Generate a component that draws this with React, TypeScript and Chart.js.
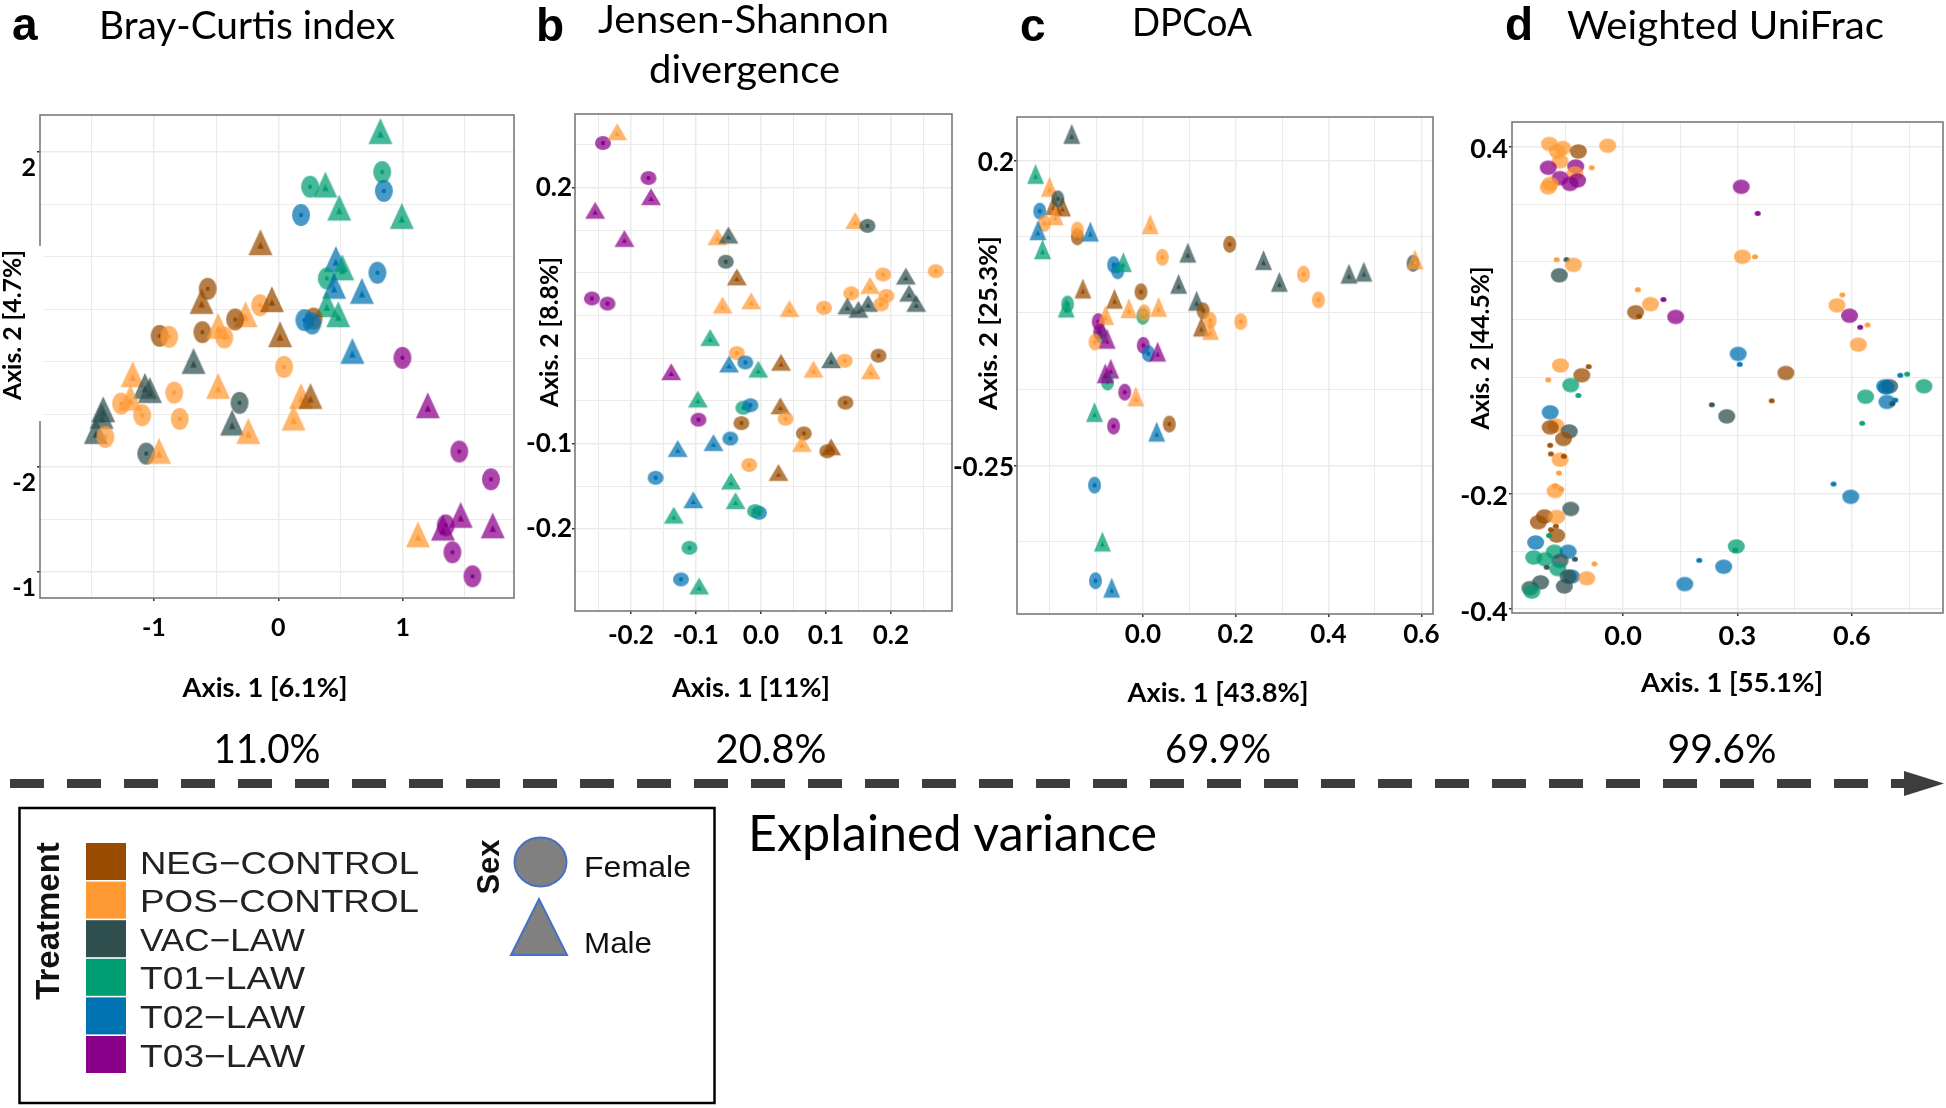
import React, { useEffect, useRef } from 'react';
import { Chart, registerables } from 'chart.js';
Chart.register(...registerables);

// ---------- legend data ----------
const GROUPS = ['NEG', 'POS', 'VAC', 'T01', 'T02', 'T03'];
const GROUP_LABELS = ['NEG\u2212CONTROL', 'POS\u2212CONTROL', 'VAC\u2212LAW', 'T01\u2212LAW', 'T02\u2212LAW', 'T03\u2212LAW'];
const GROUP_COLORS = ['#994C00', '#FF9933', '#2F4F4F', '#009E73', '#0072B2', '#8B008B'];

const PANEL_LETTERS = ['a', 'b', 'c', 'd'];
const PANEL_TITLES = ['Bray-Curtis index', 'Jensen-Shannon', 'DPCoA', 'Weighted UniFrac'];
const X_TITLES = ['Axis. 1 [6.1%]', 'Axis. 1 [11%]', 'Axis. 1 [43.8%]', 'Axis. 1 [55.1%]'];
const Y_TITLES = ['Axis. 2 [4.7%]', 'Axis. 2 [8.8%]', 'Axis. 2 [25.3%]', 'Axis. 2 [44.5%]'];
const EXPLAINED = ['11.0%', '20.8%', '69.9%', '99.6%'];

// ---------- panel a ----------
type P = [string, string, number, number];
const X_TICKS_A = [-1.5, -1, -0.5, 0, 0.5, 1, 1.5];
const X_LABELS_A: [number, string][] = [[-1, '-1'], [0, '0'], [1, '1']];
const Y_TICKS_A = [-2, -1.5, -1, -0.5, 0, 0.5, 1, 1.5, 2];
const Y_LABELS_A: [number, string][] = [[2, '2'], [-1, '-2'], [-2, '-1']];
const PTS_A: P[] = [
  ['T01', 'M', 0.82, 2.16], ['T01', 'F', 0.834, 1.81], ['T02', 'F', 0.848, 1.63], ['T01', 'F', 0.255, 1.67],
  ['T01', 'M', 0.378, 1.65], ['T02', 'F', 0.182, 1.40], ['T01', 'M', 0.489, 1.43], ['T01', 'M', 0.992, 1.35],
  ['NEG', 'M', -0.144, 1.10], ['T02', 'M', 0.462, 0.94], ['T01', 'M', 0.514, 0.86], ['T01', 'F', 0.389, 0.795],
  ['T02', 'F', 0.796, 0.85], ['T02', 'M', 0.448, 0.684], ['T02', 'M', 0.671, 0.636], ['NEG', 'F', -0.568, 0.697],
  ['NEG', 'M', -0.617, 0.54], ['POS', 'F', -0.147, 0.54], ['NEG', 'M', -0.052, 0.557], ['T01', 'M', 0.389, 0.509],
  ['NEG', 'F', 0.283, 0.413], ['T02', 'F', 0.209, 0.398], ['T02', 'F', 0.272, 0.366], ['T01', 'M', 0.481, 0.413],
  ['POS', 'M', -0.264, 0.413], ['NEG', 'F', -0.348, 0.404], ['NEG', 'F', -0.954, 0.248], ['POS', 'F', -0.878, 0.239],
  ['NEG', 'F', -0.611, 0.283], ['POS', 'M', -0.484, 0.302], ['POS', 'F', -0.435, 0.232], ['NEG', 'M', 0.014, 0.223],
  ['T02', 'M', 0.595, 0.064], ['T03', 'F', 0.997, 0.038], ['VAC', 'M', -0.682, -0.032], ['POS', 'F', 0.046, -0.048],
  ['POS', 'M', -1.171, -0.159], ['VAC', 'M', -1.073, -0.27], ['VAC', 'M', -1.033, -0.309], ['POS', 'F', -0.837, -0.293],
  ['POS', 'M', -0.484, -0.27], ['VAC', 'F', -0.312, -0.391], ['POS', 'M', 0.182, -0.366], ['NEG', 'M', 0.258, -0.366],
  ['POS', 'F', -1.264, -0.398], ['POS', 'M', -1.19, -0.382], ['POS', 'F', -1.095, -0.509], ['POS', 'F', -0.793, -0.544],
  ['VAC', 'M', -1.408, -0.493], ['VAC', 'M', -1.421, -0.556], ['VAC', 'M', -0.372, -0.62], ['POS', 'M', 0.122, -0.572],
  ['POS', 'M', -0.242, -0.70], ['VAC', 'M', -1.467, -0.70], ['POS', 'F', -1.391, -0.716], ['VAC', 'F', -1.062, -0.875],
  ['POS', 'M', -0.959, -0.89], ['T03', 'M', 1.201, -0.455], ['T03', 'F', 1.454, -0.855], ['T03', 'F', 1.709, -1.12],
  ['T03', 'M', 1.465, -1.50], ['T03', 'M', 1.723, -1.60], ['T03', 'F', 1.345, -1.559], ['T03', 'M', 1.323, -1.622],
  ['POS', 'M', 1.122, -1.686], ['T03', 'F', 1.399, -1.816], ['T03', 'F', 1.560, -2.045],
];

// ---------- panel b ----------
const X_TICKS_B = [-0.25, -0.2, -0.15, -0.1, -0.05, 0, 0.05, 0.1, 0.15, 0.2, 0.25];
const X_LABELS_B: [number, string][] = [[-0.2, '-0.2'], [-0.1, '-0.1'], [0, '0.0'], [0.1, '0.1'], [0.2, '0.2']];
const Y_TICKS_B = [-0.25, -0.2, -0.15, -0.1, -0.05, 0, 0.05, 0.1, 0.15, 0.2, 0.25];
const Y_LABELS_B: [number, string][] = [[0.2, '0.2'], [-0.1, '-0.1'], [-0.2, '-0.2']];
const PTS_B: P[] = [
  ['T03', 'F', -0.243, 0.252], ['POS', 'M', -0.221, 0.262], ['T03', 'F', -0.173, 0.211], ['T03', 'M', -0.169, 0.186],
  ['T03', 'M', -0.255, 0.170], ['T03', 'M', -0.210, 0.137], ['T03', 'F', -0.260, 0.070], ['T03', 'F', -0.236, 0.064],
  ['POS', 'M', -0.067, 0.139], ['VAC', 'M', -0.050, 0.141], ['VAC', 'F', -0.054, 0.113], ['NEG', 'M', -0.037, 0.092],
  ['POS', 'M', -0.059, 0.059], ['POS', 'M', -0.015, 0.064], ['POS', 'M', 0.044, 0.055], ['POS', 'M', 0.145, 0.158],
  ['VAC', 'F', 0.164, 0.155], ['POS', 'F', 0.097, 0.059], ['POS', 'F', 0.139, 0.076], ['POS', 'M', 0.168, 0.082],
  ['VAC', 'M', 0.133, 0.058], ['VAC', 'M', 0.150, 0.054], ['VAC', 'M', 0.165, 0.061], ['POS', 'F', 0.188, 0.098],
  ['POS', 'F', 0.193, 0.073], ['POS', 'F', 0.185, 0.063], ['VAC', 'M', 0.223, 0.093], ['VAC', 'M', 0.228, 0.073],
  ['VAC', 'M', 0.239, 0.061], ['POS', 'F', 0.269, 0.102], ['T01', 'M', -0.078, 0.021], ['POS', 'F', -0.037, 0.006],
  ['T02', 'F', -0.024, -0.005], ['T02', 'M', -0.049, -0.010], ['T01', 'M', -0.004, -0.016], ['NEG', 'M', 0.031, -0.008],
  ['POS', 'M', 0.081, -0.016], ['VAC', 'M', 0.108, -0.005], ['POS', 'F', 0.129, -0.003], ['NEG', 'F', 0.181, 0.003],
  ['POS', 'M', 0.169, -0.018], ['T03', 'M', -0.138, -0.019], ['T01', 'M', -0.097, -0.051], ['T01', 'F', -0.027, -0.058],
  ['T02', 'F', -0.016, -0.055], ['NEG', 'M', 0.030, -0.059], ['NEG', 'F', 0.130, -0.052], ['T03', 'F', -0.096, -0.072],
  ['NEG', 'F', -0.030, -0.076], ['POS', 'F', 0.038, -0.071], ['NEG', 'F', 0.066, -0.088], ['T02', 'F', -0.047, -0.094],
  ['T02', 'M', -0.073, -0.102], ['T02', 'M', -0.128, -0.109], ['POS', 'M', 0.063, -0.103], ['NEG', 'F', 0.102, -0.109],
  ['NEG', 'M', 0.108, -0.107], ['POS', 'F', -0.018, -0.125], ['T02', 'F', -0.162, -0.140], ['NEG', 'M', 0.027, -0.137],
  ['T01', 'M', -0.046, -0.147], ['T02', 'M', -0.104, -0.169], ['T01', 'M', -0.039, -0.170], ['T02', 'F', -0.003, -0.181],
  ['T01', 'F', -0.009, -0.179], ['T01', 'M', -0.134, -0.187], ['T01', 'F', -0.110, -0.222], ['T02', 'F', -0.123, -0.259],
  ['T01', 'M', -0.095, -0.270],
];

// ---------- panel c ----------
const X_TICKS_C = [-0.2, -0.1, 0, 0.1, 0.2, 0.3, 0.4, 0.5, 0.6];
const X_LABELS_C: [number, string][] = [[0, '0.0'], [0.2, '0.2'], [0.4, '0.4'], [0.6, '0.6']];
const Y_TICKS_C = [-0.3625, -0.25, -0.1375, -0.025, 0.0875, 0.2];
const Y_LABELS_C: [number, string][] = [[0.2, '0.2'], [-0.25, '-0.25']];
const PTS_C: P[] = [
  ['VAC', 'M', -0.153, 0.234], ['T01', 'M', -0.231, 0.175], ['POS', 'M', -0.201, 0.156], ['NEG', 'M', -0.192, 0.129],
  ['NEG', 'M', -0.173, 0.127], ['VAC', 'F', -0.183, 0.143], ['T02', 'F', -0.222, 0.125], ['POS', 'M', -0.189, 0.114],
  ['POS', 'F', -0.212, 0.107], ['T02', 'M', -0.226, 0.092], ['NEG', 'F', -0.141, 0.087], ['POS', 'F', -0.141, 0.097],
  ['T02', 'M', -0.113, 0.090], ['T01', 'M', -0.216, 0.064], ['POS', 'M', 0.016, 0.101], ['POS', 'F', 0.042, 0.057],
  ['VAC', 'M', 0.097, 0.059], ['NEG', 'F', 0.187, 0.076], ['VAC', 'M', 0.260, 0.048], ['VAC', 'M', 0.294, 0.016],
  ['POS', 'F', 0.346, 0.032], ['POS', 'F', 0.378, -0.006], ['VAC', 'M', 0.444, 0.028], ['VAC', 'M', 0.476, 0.031],
  ['VAC', 'F', 0.582, 0.048], ['POS', 'M', 0.586, 0.049], ['T02', 'F', -0.063, 0.046], ['T02', 'F', -0.054, 0.037],
  ['T01', 'M', -0.042, 0.045], ['VAC', 'M', 0.077, 0.013], ['VAC', 'M', 0.116, -0.012], ['NEG', 'F', 0.130, -0.022],
  ['NEG', 'F', -0.004, 0.006], ['NEG', 'M', -0.129, 0.006], ['NEG', 'M', -0.061, -0.009], ['T01', 'F', 0.000, -0.030],
  ['POS', 'M', -0.030, -0.023], ['POS', 'F', 0.003, -0.025], ['POS', 'M', 0.034, -0.021], ['POS', 'F', 0.145, -0.036],
  ['POS', 'F', 0.211, -0.038], ['NEG', 'M', 0.126, -0.050], ['POS', 'M', 0.146, -0.055], ['T01', 'F', -0.162, -0.012],
  ['T01', 'M', -0.165, -0.022], ['T01', 'F', -0.090, -0.058], ['T03', 'F', -0.096, -0.038], ['POS', 'M', -0.080, -0.033],
  ['T03', 'F', -0.093, -0.053], ['POS', 'F', -0.103, -0.068], ['T03', 'M', -0.077, -0.068], ['T03', 'F', 0.001, -0.073],
  ['T02', 'F', 0.012, -0.085], ['T03', 'M', 0.032, -0.087], ['T03', 'M', -0.069, -0.112], ['T01', 'F', -0.076, -0.127],
  ['T03', 'M', -0.081, -0.119], ['T03', 'F', -0.039, -0.142], ['POS', 'M', -0.015, -0.153], ['T01', 'M', -0.104, -0.176],
  ['T03', 'F', -0.063, -0.192], ['NEG', 'F', 0.057, -0.189], ['T02', 'M', 0.030, -0.205], ['T02', 'F', -0.104, -0.279],
  ['T01', 'M', -0.087, -0.367], ['T02', 'F', -0.102, -0.420], ['T02', 'M', -0.067, -0.435],
];

// ---------- panel d (L = large point, S = small point) ----------
const X_TICKS_D = [-0.15, 0, 0.15, 0.3, 0.45, 0.6, 0.75];
const X_LABELS_D: [number, string][] = [[0, '0.0'], [0.3, '0.3'], [0.6, '0.6']];
const Y_TICKS_D = [-0.4, -0.3, -0.2, -0.1, 0, 0.1, 0.2, 0.3, 0.4];
const Y_LABELS_D: [number, string][] = [[0.4, '0.4'], [-0.2, '-0.2'], [-0.4, '-0.4']];
const PTS_D: P[] = [
  ['POS', 'L', -0.193, 0.404], ['POS', 'L', -0.158, 0.397], ['POS', 'L', -0.172, 0.391], ['NEG', 'L', -0.117, 0.391],
  ['POS', 'L', -0.040, 0.401], ['POS', 'L', -0.165, 0.374], ['T03', 'L', -0.196, 0.363], ['T03', 'L', -0.124, 0.365],
  ['POS', 'L', -0.126, 0.353], ['T03', 'L', -0.165, 0.345], ['T03', 'L', -0.119, 0.341], ['T03', 'L', -0.139, 0.335],
  ['POS', 'L', -0.191, 0.335], ['POS', 'L', -0.196, 0.329], ['POS', 'S', -0.082, 0.363], ['T03', 'L', 0.310, 0.330],
  ['T03', 'S', 0.353, 0.284], ['POS', 'L', 0.313, 0.209], ['POS', 'S', 0.346, 0.209], ['POS', 'S', -0.174, 0.204],
  ['VAC', 'S', -0.148, 0.204], ['POS', 'L', -0.130, 0.195], ['VAC', 'L', -0.167, 0.177], ['POS', 'S', 0.039, 0.152],
  ['POS', 'L', 0.072, 0.127], ['NEG', 'L', 0.033, 0.113], ['NEG', 'S', 0.042, 0.106], ['T03', 'S', 0.106, 0.135],
  ['T03', 'L', 0.138, 0.105], ['POS', 'S', 0.575, 0.143], ['POS', 'L', 0.561, 0.125], ['T03', 'L', 0.594, 0.107],
  ['T03', 'S', 0.622, 0.087], ['POS', 'S', 0.641, 0.091], ['POS', 'L', 0.617, 0.057], ['T02', 'L', 0.302, 0.041],
  ['T02', 'S', 0.306, 0.023], ['NEG', 'L', 0.427, 0.008], ['POS', 'L', -0.164, 0.021], ['NEG', 'S', -0.090, 0.019],
  ['NEG', 'L', -0.108, 0.004], ['POS', 'S', -0.196, -0.004], ['T01', 'L', -0.137, -0.013], ['T01', 'S', -0.117, -0.031],
  ['T02', 'L', -0.191, -0.060], ['POS', 'L', -0.176, -0.083], ['NEG', 'L', -0.191, -0.086], ['VAC', 'L', -0.141, -0.093],
  ['NEG', 'L', -0.156, -0.106], ['NEG', 'S', -0.191, -0.117], ['NEG', 'S', -0.189, -0.132], ['POS', 'L', -0.165, -0.142],
  ['NEG', 'S', -0.155, -0.136], ['POS', 'S', -0.168, -0.165], ['POS', 'L', -0.178, -0.196], ['POS', 'S', -0.178, -0.187],
  ['POS', 'S', -0.162, -0.193], ['VAC', 'L', -0.137, -0.227], ['NEG', 'L', -0.206, -0.240], ['NEG', 'L', -0.222, -0.250],
  ['POS', 'L', -0.174, -0.241], ['NEG', 'S', -0.176, -0.257], ['NEG', 'S', -0.189, -0.263], ['NEG', 'L', -0.174, -0.273],
  ['T01', 'S', -0.194, -0.273], ['T02', 'L', -0.229, -0.285], ['T01', 'L', -0.180, -0.301], ['T02', 'L', -0.144, -0.301],
  ['T01', 'L', -0.234, -0.311], ['VAC', 'L', -0.165, -0.317], ['T01', 'L', -0.204, -0.314], ['VAC', 'S', -0.126, -0.314],
  ['T01', 'L', -0.171, -0.331], ['VAC', 'S', -0.200, -0.328], ['POS', 'S', -0.075, -0.322], ['T02', 'L', -0.135, -0.344],
  ['VAC', 'L', -0.144, -0.344], ['POS', 'L', -0.095, -0.347], ['VAC', 'L', -0.216, -0.354], ['VAC', 'L', -0.244, -0.364],
  ['T01', 'L', -0.239, -0.370], ['VAC', 'L', -0.154, -0.361], ['T02', 'L', 0.162, -0.357], ['T02', 'S', 0.200, -0.316],
  ['T02', 'L', 0.264, -0.327], ['T01', 'L', 0.297, -0.292], ['T01', 'S', 0.294, -0.298], ['VAC', 'S', 0.233, -0.047],
  ['VAC', 'L', 0.272, -0.067], ['NEG', 'S', 0.390, -0.040], ['T02', 'S', 0.727, 0.004], ['T01', 'S', 0.745, 0.006],
  ['T02', 'L', 0.686, -0.015], ['VAC', 'L', 0.699, -0.015], ['T02', 'L', 0.690, -0.017], ['T01', 'L', 0.789, -0.015],
  ['T01', 'L', 0.636, -0.033], ['T02', 'S', 0.714, -0.039], ['T02', 'L', 0.692, -0.042], ['VAC', 'S', 0.706, -0.045],
  ['T01', 'S', 0.627, -0.079], ['T02', 'S', 0.552, -0.184], ['T02', 'L', 0.597, -0.206],
];

// ---------- layout / style ----------
const YW = 80;
const XH = 70;
const PAD_T = 30;
const PAD_R = 30;
const TICK_FONT = 'Lato';

interface PanelCfg {
  pts: P[];
  box: [number, number, number, number];
  x: [number, number];
  y: [number, number];
  xTicks: number[];
  xLab: [number, string][];
  yTicks: number[];
  yLab: [number, string][];
  font: number;
  xPad: number;
  yPad: number;
  yOff: number;
  circle: [number, number];
  tri: [number, number];
  small?: [number, number];
  dots: boolean;
  alpha: number;
}

const PANELS: PanelCfg[] = [
  { pts: PTS_A, box: [40, 115, 514, 598], x: [-1.916, 1.894], y: [-2.252, 2.354], xTicks: X_TICKS_A, xLab: X_LABELS_A,
    yTicks: Y_TICKS_A, yLab: Y_LABELS_A, font: 25, xPad: 12, yPad: 1, yOff: 16, circle: [18, 22], tri: [24, 26], dots: true, alpha: 0.72 },
  { pts: PTS_B, box: [575, 114, 952, 611], x: [-0.286, 0.294], y: [-0.296, 0.286], xTicks: X_TICKS_B, xLab: X_LABELS_B,
    yTicks: Y_TICKS_B, yLab: Y_LABELS_B, font: 26, xPad: 6, yPad: 0, yOff: 0, circle: [16, 14], tri: [20, 17], dots: true, alpha: 0.72 },
  { pts: PTS_C, box: [1017, 117, 1433, 614], x: [-0.271, 0.625], y: [-0.469, 0.2638], xTicks: X_TICKS_C, xLab: X_LABELS_C,
    yTicks: Y_TICKS_C, yLab: Y_LABELS_C, font: 26, xPad: 2, yPad: 0, yOff: 2, circle: [13, 17], tri: [17, 20], dots: true, alpha: 0.72 },
  { pts: PTS_D, box: [1512, 122, 1943, 613], x: [-0.291, 0.839], y: [-0.407, 0.442], xTicks: X_TICKS_D, xLab: X_LABELS_D,
    yTicks: Y_TICKS_D, yLab: Y_LABELS_D, font: 27, xPad: 4, yPad: 1, yOff: 3, circle: [17, 14.5], tri: [17, 17], small: [6, 5], dots: false, alpha: 0.75 },
];

function rgba(hex: string, a: number) {
  const n = parseInt(hex.slice(1), 16);
  return `rgba(${(n >> 16) & 255},${(n >> 8) & 255},${n & 255},${a})`;
}

function ellipseImg(color: string, w: number, h: number, alpha: number, dot: boolean) {
  const c = document.createElement('canvas');
  const W = Math.ceil(w) + 2;
  const H = Math.ceil(h) + 2;
  c.width = W;
  c.height = H;
  const g = c.getContext('2d')!;
  g.fillStyle = rgba(color, alpha);
  g.beginPath();
  g.ellipse(W / 2, H / 2, w / 2, h / 2, 0, 0, Math.PI * 2);
  g.fill();
  if (dot) {
    g.fillStyle = color;
    g.beginPath();
    g.ellipse(W / 2, H / 2, 2, 2.2, 0, 0, Math.PI * 2);
    g.fill();
  }
  return c;
}

function triImg(color: string, w: number, h: number, alpha: number) {
  const c = document.createElement('canvas');
  const W = Math.ceil(w) + 2;
  const H = Math.ceil((h * 4) / 3) + 2;
  c.width = W;
  c.height = H;
  const g = c.getContext('2d')!;
  const cx = W / 2;
  const cy = H / 2;
  const tri = (tw: number, th: number, fill: string) => {
    g.beginPath();
    g.moveTo(cx, cy - (2 * th) / 3);
    g.lineTo(cx + tw / 2, cy + th / 3);
    g.lineTo(cx - tw / 2, cy + th / 3);
    g.closePath();
    g.fillStyle = fill;
    g.fill();
  };
  tri(w, h, rgba(color, alpha));
  tri(w * 0.27, h * 0.27, color);
  return c;
}

function lab(pairs: [number, string][], v: number) {
  const f = pairs.find((p) => Math.abs(p[0] - v) < 1e-6);
  return f ? f[1] : '';
}

const framePlugin = {
  id: 'frame',
  afterDraw(chart: any) {
    const { ctx, chartArea: a } = chart;
    ctx.save();
    ctx.strokeStyle = '#7a7a7a';
    ctx.lineWidth = 1.6;
    ctx.strokeRect(a.left, a.top, a.right - a.left, a.bottom - a.top);
    ctx.restore();
  },
};

function Panel({ cfg }: { cfg: PanelCfg }) {
  const ref = useRef<HTMLCanvasElement>(null);
  const [l, t, r, b] = cfg.box;
  const cw = r - l + YW + PAD_R;
  const ch = b - t + PAD_T + XH;
  useEffect(() => {
    const imgs: Record<string, HTMLCanvasElement> = {};
    GROUPS.forEach((g, i) => {
      const col = GROUP_COLORS[i];
      imgs[g + 'F'] = ellipseImg(col, cfg.circle[0], cfg.circle[1], cfg.alpha, cfg.dots);
      imgs[g + 'M'] = triImg(col, cfg.tri[0], cfg.tri[1], cfg.alpha);
      imgs[g + 'L'] = ellipseImg(col, cfg.circle[0], cfg.circle[1], cfg.alpha, false);
      const s = cfg.small || [6, 5];
      imgs[g + 'S'] = ellipseImg(col, s[0], s[1], 0.95, false);
    });
    const data = cfg.pts.map((p) => ({ x: p[2], y: p[3], g: p[0], s: p[1] }));
    const tickFont = { family: TICK_FONT, weight: 'bold' as const, size: cfg.font };
    const chart = new Chart(ref.current!, {
      type: 'scatter',
      data: {
        datasets: [
          {
            data,
            pointStyle: (ctx: any) => imgs[ctx.raw.g + ctx.raw.s],
            pointRadius: 8,
          } as any,
        ],
      },
      plugins: [framePlugin],
      options: {
        responsive: false,
        animation: false,
        devicePixelRatio: 1,
        layout: { padding: { top: PAD_T, right: PAD_R, left: 0, bottom: 0 } },
        plugins: { legend: { display: false }, tooltip: { enabled: false } },
        scales: {
          x: {
            type: 'linear',
            min: cfg.x[0],
            max: cfg.x[1],
            afterBuildTicks: (s: any) => {
              s.ticks = cfg.xTicks.map((v) => ({ value: v }));
            },
            afterFit: (s: any) => {
              s.height = XH;
            },
            ticks: {
              autoSkip: false,
              maxRotation: 0,
              padding: cfg.xPad,
              color: '#000',
              font: tickFont,
              callback: (v: any) => lab(cfg.xLab, Number(v)),
            },
            grid: {
              color: '#ebebeb',
              lineWidth: (c: any) => (c.tick && lab(cfg.xLab, c.tick.value) ? 1.5 : 1),
              tickLength: 3,
              tickColor: (c: any) => (c.tick && lab(cfg.xLab, c.tick.value) ? '#333' : 'rgba(0,0,0,0)'),
            },
            border: { display: false },
          },
          y: {
            type: 'linear',
            min: cfg.y[0],
            max: cfg.y[1],
            afterBuildTicks: (s: any) => {
              s.ticks = cfg.yTicks.map((v) => ({ value: v }));
            },
            afterFit: (s: any) => {
              s.width = YW;
            },
            ticks: {
              autoSkip: false,
              padding: cfg.yPad,
              labelOffset: cfg.yOff,
              color: '#000',
              font: tickFont,
              callback: (v: any) => lab(cfg.yLab, Number(v)),
            },
            grid: {
              color: '#ebebeb',
              lineWidth: (c: any) => (c.tick && lab(cfg.yLab, c.tick.value) ? 1.5 : 1),
              tickLength: 3,
              tickColor: (c: any) => (c.tick && lab(cfg.yLab, c.tick.value) ? '#333' : 'rgba(0,0,0,0)'),
            },
            border: { display: false },
          },
        },
      } as any,
    });
    return () => chart.destroy();
  }, [cfg]);
  return (
    <canvas
      ref={ref}
      width={cw}
      height={ch}
      style={{ position: 'absolute', left: l - YW, top: t - PAD_T, width: cw, height: ch }}
    />
  );
}

const TXT = "Lato, 'Open Sans', sans-serif";
const ARIAL = "'Liberation Sans', Arial, sans-serif";

export default function App() {
  const letterX = [12, 536, 1020, 1505];
  const letterY = [40, 41, 41, 40];
  const titleX = [99, 598, 1132, 1567];
  const titleY = [39, 33, 36, 39];
  const titleW = [296, 291, 120, 317];
  const xtCx = [265, 751, 1218, 1732];
  const xtY = [697, 697, 702, 692];
  const xtW = [165, 158, 181, 182];
  const ytX = [21, 558, 997, 1489];
  const ytCy = [325, 332, 323, 348];
  const ytW = [150, 150, 174, 163];
  const pcCx = [267, 771, 1218, 1722];
  const pcW = [107, 111, 106, 109];
  return (
    <div style={{ position: 'absolute', left: 0, top: 0, width: 1946, height: 1108, background: '#fff', overflow: 'hidden' }}>
      {PANELS.map((p, i) => (
        <Panel key={i} cfg={p} />
      ))}
      <svg width={1946} height={1108} style={{ position: 'absolute', left: 0, top: 0, pointerEvents: 'none' }}>
        {/* gap in the left border of panel a, as in the original figure */}
        <rect x={37} y={246} width={6} height={175} fill="#fff" />
        {PANEL_LETTERS.map((s, i) => (
          <text key={'l' + i} x={letterX[i]} y={letterY[i]} fontFamily={ARIAL} fontWeight="bold" fontSize={46} fill="#000">
            {s}
          </text>
        ))}
        {PANEL_TITLES.map((s, i) => (
          <text key={'t' + i} x={titleX[i]} y={titleY[i]} fontFamily={TXT} fontSize={38} fill="#000"
            textLength={titleW[i]} lengthAdjust="spacingAndGlyphs">
            {s}
          </text>
        ))}
        <text x={649} y={83} fontFamily={TXT} fontSize={38} fill="#000" textLength={191} lengthAdjust="spacingAndGlyphs">
          divergence
        </text>
        {X_TITLES.map((s, i) => (
          <text key={'x' + i} x={xtCx[i]} y={xtY[i]} textAnchor="middle" fontFamily={TXT} fontWeight="bold" fontSize={27}
            fill="#000" textLength={xtW[i]} lengthAdjust="spacingAndGlyphs">
            {s}
          </text>
        ))}
        {Y_TITLES.map((s, i) => (
          <text key={'y' + i} x={0} y={0} transform={`translate(${ytX[i]},${ytCy[i]}) rotate(-90)`} textAnchor="middle"
            fontFamily={TXT} fontWeight="bold" fontSize={25} fill="#000" textLength={ytW[i]} lengthAdjust="spacingAndGlyphs">
            {s}
          </text>
        ))}
        {EXPLAINED.map((s, i) => (
          <text key={'p' + i} x={pcCx[i]} y={763} textAnchor="middle" fontFamily={TXT} fontSize={40} fill="#000"
            textLength={pcW[i]} lengthAdjust="spacingAndGlyphs">
            {s}
          </text>
        ))}
        <line x1={10} y1={783.5} x2={1906} y2={783.5} stroke="#3d3d3d" strokeWidth={9} strokeDasharray="34 23" />
        <polygon points="1904,771 1944,783.5 1904,796" fill="#3d3d3d" />
        <text x={748} y={851} fontFamily={TXT} fontSize={50} fill="#000" textLength={409} lengthAdjust="spacingAndGlyphs">
          Explained variance
        </text>
        {/* legend */}
        <rect x={19.5} y={808} width={695} height={295} fill="#fff" stroke="#000" strokeWidth={2.5} />
        <text x={0} y={0} transform="translate(59,921) rotate(-90)" textAnchor="middle" fontFamily={ARIAL} fontWeight="bold"
          fontSize={33} fill="#111">
          Treatment
        </text>
        {GROUP_LABELS.map((s, i) => (
          <g key={'g' + i}>
            <rect x={86} y={843 + i * 38.6} width={40} height={37} fill={GROUP_COLORS[i]} />
            <text x={140} y={873.5 + i * 38.6} fontFamily={ARIAL} fontSize={32} fill="#222"
              textLength={i < 2 ? 279 : 165} lengthAdjust="spacingAndGlyphs">
              {s}
            </text>
          </g>
        ))}
        <text x={0} y={0} transform="translate(499,867) rotate(-90)" textAnchor="middle" fontFamily={ARIAL} fontWeight="bold"
          fontSize={31} fill="#111">
          Sex
        </text>
        <ellipse cx={540.5} cy={862} rx={26} ry={24.5} fill="#808080" stroke="#4472C4" strokeWidth={2} />
        <polygon points="539,899 567,955 511,955" fill="#808080" stroke="#4472C4" strokeWidth={2} />
        <text x={584} y={877} fontFamily={ARIAL} fontSize={30} fill="#111" textLength={107} lengthAdjust="spacingAndGlyphs">
          Female
        </text>
        <text x={584} y={953} fontFamily={ARIAL} fontSize={30} fill="#111" textLength={68} lengthAdjust="spacingAndGlyphs">
          Male
        </text>
      </svg>
    </div>
  );
}
